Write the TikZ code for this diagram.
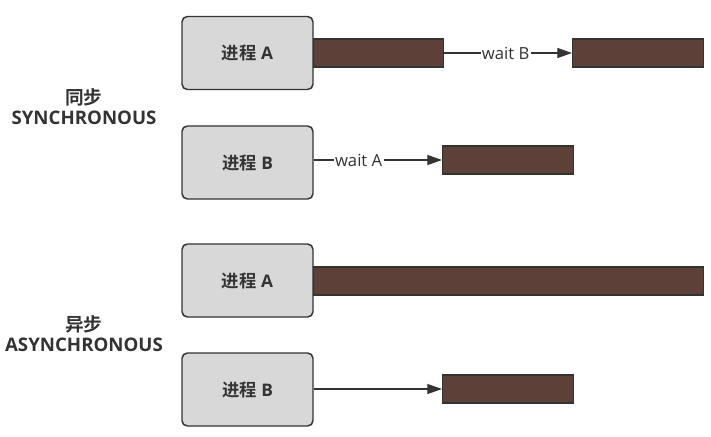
\documentclass[tikz,border=0pt]{standalone}
\usepackage{fontspec}
\setmainfont{Open Sans}
\newfontfamily\cjk{Noto Sans CJK SC}[BoldFont={Noto Sans CJK SC Bold}]
\usetikzlibrary{arrows.meta}
\definecolor{boxgray}{RGB}{216,216,216}
\definecolor{linegray}{RGB}{51,51,51}
\definecolor{barbrown}{RGB}{93,64,55}
\tikzset{
  procbox/.style={draw=linegray, fill=boxgray, line width=1.1pt, rounded corners=4pt, minimum width=98.25pt, minimum height=54.75pt, inner sep=0pt, text=linegray, font=\bfseries\fontsize{13}{15}\selectfont},
  runbar/.style={draw=linegray, fill=barbrown, line width=1pt, minimum height=21pt, inner sep=0pt},
  waitarrow/.style={draw=linegray, line width=0.9pt, -{Triangle[length=11pt,width=7.5pt]}},
  waitlabel/.style={fill=white, inner sep=1pt, text=linegray, font=\fontsize{12.5}{15}\selectfont},
  modelabel/.style={align=center, text=linegray, font=\bfseries\fontsize{14}{15}\selectfont}
}
\begin{document}
\begin{tikzpicture}[x=0.75pt,y=0.75pt,yscale=-1,xscale=1]
    \useasboundingbox (0,0) rectangle (711,436);
    % synchronous
    \node [modelabel] (syncLabel) at (84,106.5) {{\cjk 同步}\\SYNCHRONOUS};
    \node [procbox] (syncA) at (247.5,53) {{\cjk 进程} A};
    \node [procbox] (syncB) at (247.5,162.5) {{\cjk 进程} B};
    \node [runbar, minimum width=97.5pt, anchor=west] (syncBarA1) at (313,53) {};
    \node [runbar, minimum width=98.25pt, anchor=west] (syncBarA2) at (572,53) {};
    \node [runbar, minimum width=98.25pt, anchor=west] (syncBarB) at (442,160) {};
    \draw [waitarrow] (syncBarA1.east) -- node [waitlabel, pos=0.48] (waitB) {wait B} (syncBarA2.west);
    \draw [waitarrow] (syncB.east |- syncBarB.west) -- node [waitlabel, pos=0.35] (waitA) {wait A} (syncBarB.west);
    % asynchronous
    \node [modelabel] (asyncLabel) at (84,333.5) {{\cjk 异步}\\ASYNCHRONOUS};
    \node [procbox] (asyncA) at (247.5,280.5) {{\cjk 进程} A};
    \node [procbox] (asyncB) at (247.5,389.5) {{\cjk 进程} B};
    \node [runbar, minimum width=292.5pt, anchor=west] (asyncBarA) at (313,281) {};
    \node [runbar, minimum width=98.25pt, anchor=west] (asyncBarB) at (442,389) {};
    \draw [waitarrow] (asyncB.east |- asyncBarB.west) -- (asyncBarB.west);
\end{tikzpicture}
\end{document}
